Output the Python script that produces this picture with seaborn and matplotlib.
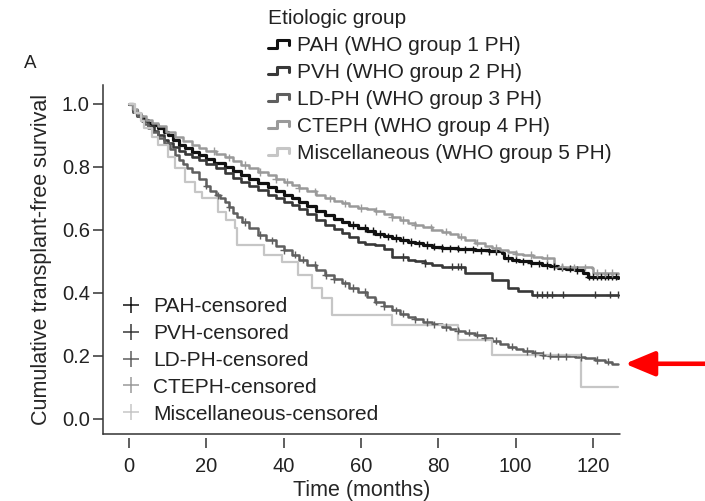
import numpy as np
import pandas as pd
import matplotlib
matplotlib.use("Agg")
import matplotlib.pyplot as plt
import seaborn as sns
from matplotlib.lines import Line2D
from matplotlib.legend_handler import HandlerBase

# ---------------- data ----------------
groups = ["PAH (WHO group 1 PH)", "PVH (WHO group 2 PH)", "LD-PH (WHO group 3 PH)",
          "CTEPH (WHO group 4 PH)", "Miscellaneous (WHO group 5 PH)"]
censor_labels = ["PAH-censored", "PVH-censored", "LD-PH-censored",
                 "CTEPH-censored", "Miscellaneous-censored"]

pah_t = [0, 1, 2, 3, 4, 5, 6, 7.5, 9, 10, 11.5, 13, 14.5, 16.3, 18, 20, 22, 24.8, 27, 29, 31, 33.4,
         36, 38, 40, 42.2, 44, 46, 48.5, 50.7, 53, 55, 57, 59.2, 61.5, 63.6, 66, 68, 70, 72.1, 74, 76,
         78.5, 80.9, 83, 85, 87, 89.5, 91, 93, 96.5, 97, 99, 101, 104, 106.8, 109, 111, 113, 115.3,
         117.5, 118.7, 126.5]
pah_s = [1.0, 0.98, 0.965, 0.955, 0.948, 0.94, 0.933, 0.924, 0.91, 0.90, 0.885, 0.87, 0.86, 0.848,
         0.838, 0.825, 0.813, 0.80, 0.788, 0.775, 0.762, 0.749, 0.737, 0.725, 0.712, 0.70, 0.688, 0.675,
         0.66, 0.648, 0.635, 0.625, 0.615, 0.606, 0.596, 0.587, 0.58, 0.574, 0.568, 0.562, 0.557, 0.552,
         0.547, 0.543, 0.541, 0.540, 0.538, 0.537, 0.535, 0.532, 0.527, 0.511, 0.505, 0.50, 0.494, 0.489,
         0.484, 0.480, 0.477, 0.473, 0.462, 0.451, 0.448]

pvh_t = [0, 1, 2, 3.5, 5, 6.5, 7.5, 9, 10, 11.5, 13, 14.5, 16.3, 18, 20, 22.5, 24.8, 27, 29, 31, 33.4,
         36, 38, 40, 42.2, 44, 46, 48.5, 50.7, 53, 55, 57, 59.2, 61, 63.6, 66, 68, 72.1, 74, 76.5, 78.5,
         80.9, 86.9, 93.9, 98, 100.5, 104.2, 126.5]
pvh_s = [1.0, 0.975, 0.96, 0.945, 0.93, 0.915, 0.90, 0.885, 0.875, 0.862, 0.85, 0.842, 0.832, 0.822,
         0.81, 0.795, 0.78, 0.765, 0.752, 0.74, 0.727, 0.712, 0.70, 0.69, 0.679, 0.665, 0.65, 0.632,
         0.616, 0.602, 0.59, 0.576, 0.562, 0.556, 0.552, 0.54, 0.514, 0.505, 0.50, 0.495, 0.49, 0.483,
         0.463, 0.441, 0.416, 0.405, 0.394, 0.394]

ldph_t = [0, 1, 2, 3, 4, 5, 6, 7.5, 9, 10.5, 11.9, 13, 14, 15, 16.3, 18, 20, 21, 22.5, 23.5, 24.8, 26,
          27, 28, 29.2, 31, 33.4, 35.5, 38, 40, 42.2, 44, 46, 48.5, 50.7, 53, 55, 57, 59.2, 61.5, 63.6,
          66, 68, 70, 72.1, 74, 76, 78.5, 80.9, 83, 85, 87, 89.5, 92, 94, 96, 98, 100, 102, 104.5, 106.8,
          109, 111, 115.3, 118, 120.5, 123, 125, 126.5]
ldph_s = [1.0, 0.975, 0.96, 0.948, 0.935, 0.922, 0.911, 0.893, 0.875, 0.856, 0.838, 0.823, 0.81, 0.797,
          0.784, 0.762, 0.74, 0.725, 0.71, 0.70, 0.689, 0.672, 0.655, 0.64, 0.625, 0.605, 0.584, 0.567,
          0.55, 0.535, 0.521, 0.505, 0.49, 0.473, 0.457, 0.443, 0.43, 0.416, 0.403, 0.387, 0.372, 0.357,
          0.345, 0.334, 0.324, 0.316, 0.308, 0.30, 0.292, 0.286, 0.28, 0.274, 0.267, 0.258, 0.248, 0.238,
          0.229, 0.222, 0.215, 0.208, 0.203, 0.201, 0.199, 0.197, 0.193, 0.187, 0.182, 0.175, 0.175]

cteph_t = [0, 1, 2, 3, 4.5, 6, 7.5, 9.5, 12, 14, 16.3, 18, 20, 22.5, 24.8, 27, 29, 31, 33.4, 36, 38, 40,
           42.2, 44, 46, 48.5, 50.7, 53, 55, 57, 59.2, 61.5, 63.6, 66, 68, 70, 72.1, 74, 76, 78.5, 80.9,
           83, 85, 87, 89.5, 92, 94, 96, 98, 100, 102, 104.5, 106.8, 110, 115, 119.7, 120, 126.5]
cteph_s = [1.0, 0.985, 0.97, 0.96, 0.95, 0.94, 0.93, 0.912, 0.895, 0.882, 0.87, 0.86, 0.85, 0.84, 0.83,
           0.818, 0.806, 0.795, 0.784, 0.773, 0.762, 0.752, 0.743, 0.733, 0.722, 0.71, 0.70, 0.692, 0.684,
           0.677, 0.67, 0.665, 0.66, 0.65, 0.64, 0.631, 0.622, 0.615, 0.608, 0.60, 0.594, 0.586, 0.578,
           0.568, 0.559, 0.55, 0.543, 0.536, 0.53, 0.525, 0.52, 0.515, 0.511, 0.483, 0.481, 0.479, 0.463,
           0.46]

misc_t = [0, 1.5, 3, 4, 6, 7.5, 10, 11.9, 14.5, 17, 18.9, 23, 25, 27.4, 28, 33.4, 35, 39.6, 43.7,
          47.3, 49.9, 52.5, 68, 85, 93.9, 117, 126.5]
misc_s = [1.0, 0.97, 0.945, 0.924, 0.895, 0.87, 0.83, 0.797, 0.752, 0.72, 0.70, 0.657, 0.63, 0.606,
          0.552, 0.552, 0.52, 0.498, 0.457, 0.416, 0.384, 0.33, 0.298, 0.25, 0.203, 0.10, 0.10]

pah_c = [58, 61, 63, 65, 67, 69, 71, 73, 75, 77, 79, 81, 83, 85, 87, 89, 91, 93, 95, 98, 100, 102,
         104, 106, 108, 110, 112, 114, 116, 119, 120, 121, 122, 123, 124, 125, 126]
pvh_c = [71, 76.5, 83.5, 85, 86, 105.5, 106.8, 108, 109.4, 112.2, 120.5, 124.4, 126.4]
ldph_c = [20, 23, 26, 30, 34, 37, 40, 43, 45, 48, 51, 53, 56, 58, 61, 64, 66, 69, 71, 74, 77, 79,
          82, 85, 88, 90, 92, 95, 99, 103, 105, 107, 109, 111, 113, 117, 121, 124]
cteph_c = [22, 26, 30, 34, 38, 41, 44, 48, 52, 56, 60, 64, 68, 71, 74, 78, 82, 86, 90, 95, 100,
           104, 108, 112, 115, 118, 121, 123, 125]
misc_c = []

x_ticks = [0, 20, 40, 60, 80, 100, 120]
y_ticks = [0.0, 0.2, 0.4, 0.6, 0.8, 1.0]

# ---------------- styling ----------------
colors = ["#111111", "#383838", "#5f5f5f", "#9a9a9a", "#c6c6c6"]
widths = [2.3, 1.9, 1.8, 1.8, 1.6]

sns.set_style("ticks")
plt.rcParams["font.family"] = ["Liberation Sans", "DejaVu Sans"]
plt.rcParams["text.color"] = "#222222"

curves_t = [pah_t, pvh_t, ldph_t, cteph_t, misc_t]
curves_s = [pah_s, pvh_s, ldph_s, cteph_s, misc_s]
cens = [pah_c, pvh_c, ldph_c, cteph_c, misc_c]

rows = []
for g, ts, ss in zip(groups, curves_t, curves_s):
    for t, s in zip(ts, ss):
        rows.append((g, t, s))
df = pd.DataFrame(rows, columns=["group", "time", "surv"])

crow = []
for g, ts, ss, cs in zip(groups, curves_t, curves_s, cens):
    ta = np.array(ts); sa = np.array(ss)
    for c in cs:
        idx = np.searchsorted(ta, c, side="right") - 1
        crow.append((g, c, sa[idx]))
cdf = pd.DataFrame(crow, columns=["group", "time", "surv"])

fig = plt.figure(figsize=(7.05, 5.01), dpi=100)
ax = fig.add_axes([103 / 705, 1 - 434 / 501, 517 / 705, 349 / 501])

pal = dict(zip(groups, colors))
sizes = dict(zip(groups, widths))
sns.lineplot(data=df, x="time", y="surv", hue="group", size="group", palette=pal, sizes=sizes,
             hue_order=groups, size_order=groups, estimator=None, sort=False,
             drawstyle="steps-post", legend=False, ax=ax)
sns.scatterplot(data=cdf, x="time", y="surv", hue="group", palette=pal, hue_order=groups,
                marker="+", s=28, linewidth=1.0, legend=False, ax=ax, zorder=3)

ax.set_xlim(-6.7, 127.0)
ax.set_ylim(-0.048, 1.060)
ax.set_xticks(x_ticks)
ax.set_yticks(y_ticks)
ax.set_yticklabels([f"{v:.1f}" for v in y_ticks])
ax.set_xlabel("Time (months)", fontsize=15.5, labelpad=3)
ax.set_ylabel("Cumulative transplant-free survival", fontsize=15.5, labelpad=7)

axis_col = "#333333"
for sp in ["top", "right"]:
    ax.spines[sp].set_visible(False)
ax.spines["left"].set_color(axis_col)
ax.spines["left"].set_linewidth(1.1)
ax.spines["bottom"].set_position(("outward", 3))
ax.spines["bottom"].set_visible(False)
ax.plot([0, 1], [0, 0], transform=ax.transAxes, color=axis_col, lw=1.1, clip_on=False)
ax.tick_params(axis="both", colors=axis_col, labelcolor="#222222", labelsize=14.5, width=1.1, length=7.5)
ax.tick_params(axis="x", pad=6)
ax.tick_params(axis="y", pad=2)


class StepHandler(HandlerBase):
    def create_artists(self, legend, orig_handle, xdescent, ydescent, width, height, fontsize, trans):
        x0 = -xdescent
        y0 = -ydescent
        xs = [x0, x0 + 0.45 * width, x0 + 0.45 * width, x0 + width, x0 + width]
        ys = [y0 + 0.2 * height, y0 + 0.2 * height, y0 + 0.75 * height, y0 + 0.75 * height, y0 + 0.4 * height]
        ln = Line2D(xs, ys, color=orig_handle.get_color(), lw=orig_handle.get_linewidth(), transform=trans)
        return [ln]


h1 = [Line2D([], [], color=c, lw=2.2) for c in colors]
leg1 = fig.legend(h1, groups, title="Etiologic group", loc="upper left",
                  bbox_to_anchor=(268 / 705, 1 - 9 / 501), frameon=False, fontsize=15,
                  title_fontsize=15, handlelength=1.0, handleheight=0.6, handletextpad=0.4,
                  labelspacing=0.38, borderpad=0, borderaxespad=0, alignment="left",
                  handler_map={Line2D: StepHandler()})

h2 = [Line2D([], [], color=c, marker="+", linestyle="none", markersize=11, mew=1.1) for c in colors]
leg2 = ax.legend(h2, censor_labels, loc="upper left", bbox_to_anchor=(121 / 705, 1 - 297 / 501),
                 bbox_transform=fig.transFigure, frameon=False, fontsize=15, handlelength=1.0,
                 handletextpad=0.55, labelspacing=0.38, borderpad=0, borderaxespad=0)

ax.annotate("", xy=(128.3, 0.175), xytext=(149.5, 0.175),
            arrowprops=dict(arrowstyle="-|>,head_length=0.6,head_width=0.25", color="#ff0000",
                            lw=3.3, mutation_scale=30, shrinkA=0, shrinkB=0),
            annotation_clip=False)

fig.text(30 / 705, 1 - 63 / 501, "A", fontsize=13.5, ha="center", va="center", color="#222222")

fig.savefig("out.png", dpi=100)
